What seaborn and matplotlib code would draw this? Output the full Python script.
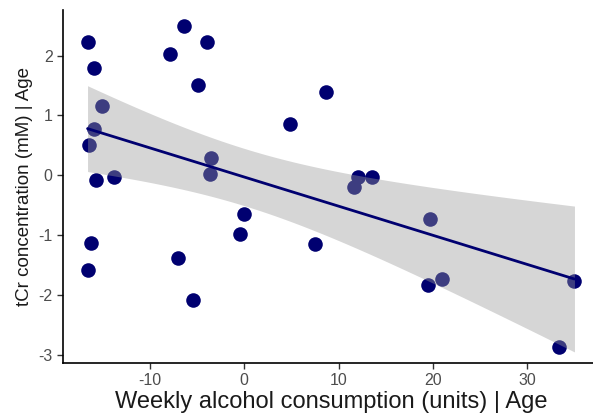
import numpy as np
import pandas as pd
import seaborn as sns
import matplotlib.pyplot as plt

# valores
alcohol = [-16.6, -15.9, -6.4, -7.9, -3.9, -4.9, -15.1, -15.9, -16.4, -15.7,
           -13.8, -3.5, -3.6, 4.9, 8.7, 11.6, 12.1, 13.5, 19.7, 19.5,
           21.0, 33.4, 35.0, 0.0, -0.4, 7.5, -16.2, -16.6, -7.0, -5.4]
tcr = [2.22, 1.80, 2.49, 2.03, 2.22, 1.51, 1.15, 0.78, 0.51, -0.08,
       -0.02, 0.29, 0.03, 0.86, 1.39, -0.20, -0.02, -0.02, -0.73, -1.83,
       -1.73, -2.86, -1.76, -0.64, -0.97, -1.15, -1.12, -1.58, -1.37, -2.08]
x_ticks = [-10, 0, 10, 20, 30]
y_ticks = [-3, -2, -1, 0, 1, 2]

df = pd.DataFrame({'alcohol': alcohol, 'tcr': tcr})

sns.set_style('white')
plt.rcParams['font.family'] = ['Liberation Sans', 'DejaVu Sans']
plt.rcParams['axes.unicode_minus'] = False

fig = plt.figure(figsize=(5.93, 4.16), dpi=100)
ax = fig.add_axes([63 / 593, 53 / 416, 536 / 593, 353 / 416])

navy = '#000070'
sns.regplot(data=df, x='alcohol', y='tcr', ax=ax, color=navy, ci=None,
            scatter_kws={'s': 110, 'alpha': 1, 'linewidths': 0, 'zorder': 2},
            line_kws={'lw': 2, 'zorder': 4}, truncate=True)

# intervalo de confianza del 95% (como geom_smooth de ggplot), por encima de los puntos
x = df['alcohol'].to_numpy()
y = df['tcr'].to_numpy()
n = len(x)
b, a = np.polyfit(x, y, 1)
resid = y - (a + b * x)
s = np.sqrt(np.sum(resid ** 2) / (n - 2))
sxx = np.sum((x - x.mean()) ** 2)
grid = np.linspace(x.min(), x.max(), 100)
se = s * np.sqrt(1 / n + (grid - x.mean()) ** 2 / sxx)
t_crit = 2.048
fit = a + b * grid
ax.fill_between(grid, fit - t_crit * se, fit + t_crit * se,
                color='#999999', alpha=0.4, lw=0, zorder=3)

ax.set_xlim(-19.2, 37.6)
ax.set_ylim(-3.13, 2.76)
ax.set_xticks(x_ticks)
ax.set_yticks(y_ticks)
ax.tick_params(axis='both', labelsize=11.5, labelcolor='#4d4d4d', length=4,
               width=1, color='#333333', direction='out', bottom=True, left=True)
ax.set_xlabel('Weekly alcohol consumption (units) | Age', fontsize=17,
              color='#1a1a1a', labelpad=2)
ax.set_ylabel('tCr concentration (mM) | Age', fontsize=13.5, color='#1a1a1a')
sns.despine(ax=ax)
for sp in ['left', 'bottom']:
    ax.spines[sp].set_color('black')
    ax.spines[sp].set_linewidth(1.2)

fig.savefig('out.png', dpi=100)
